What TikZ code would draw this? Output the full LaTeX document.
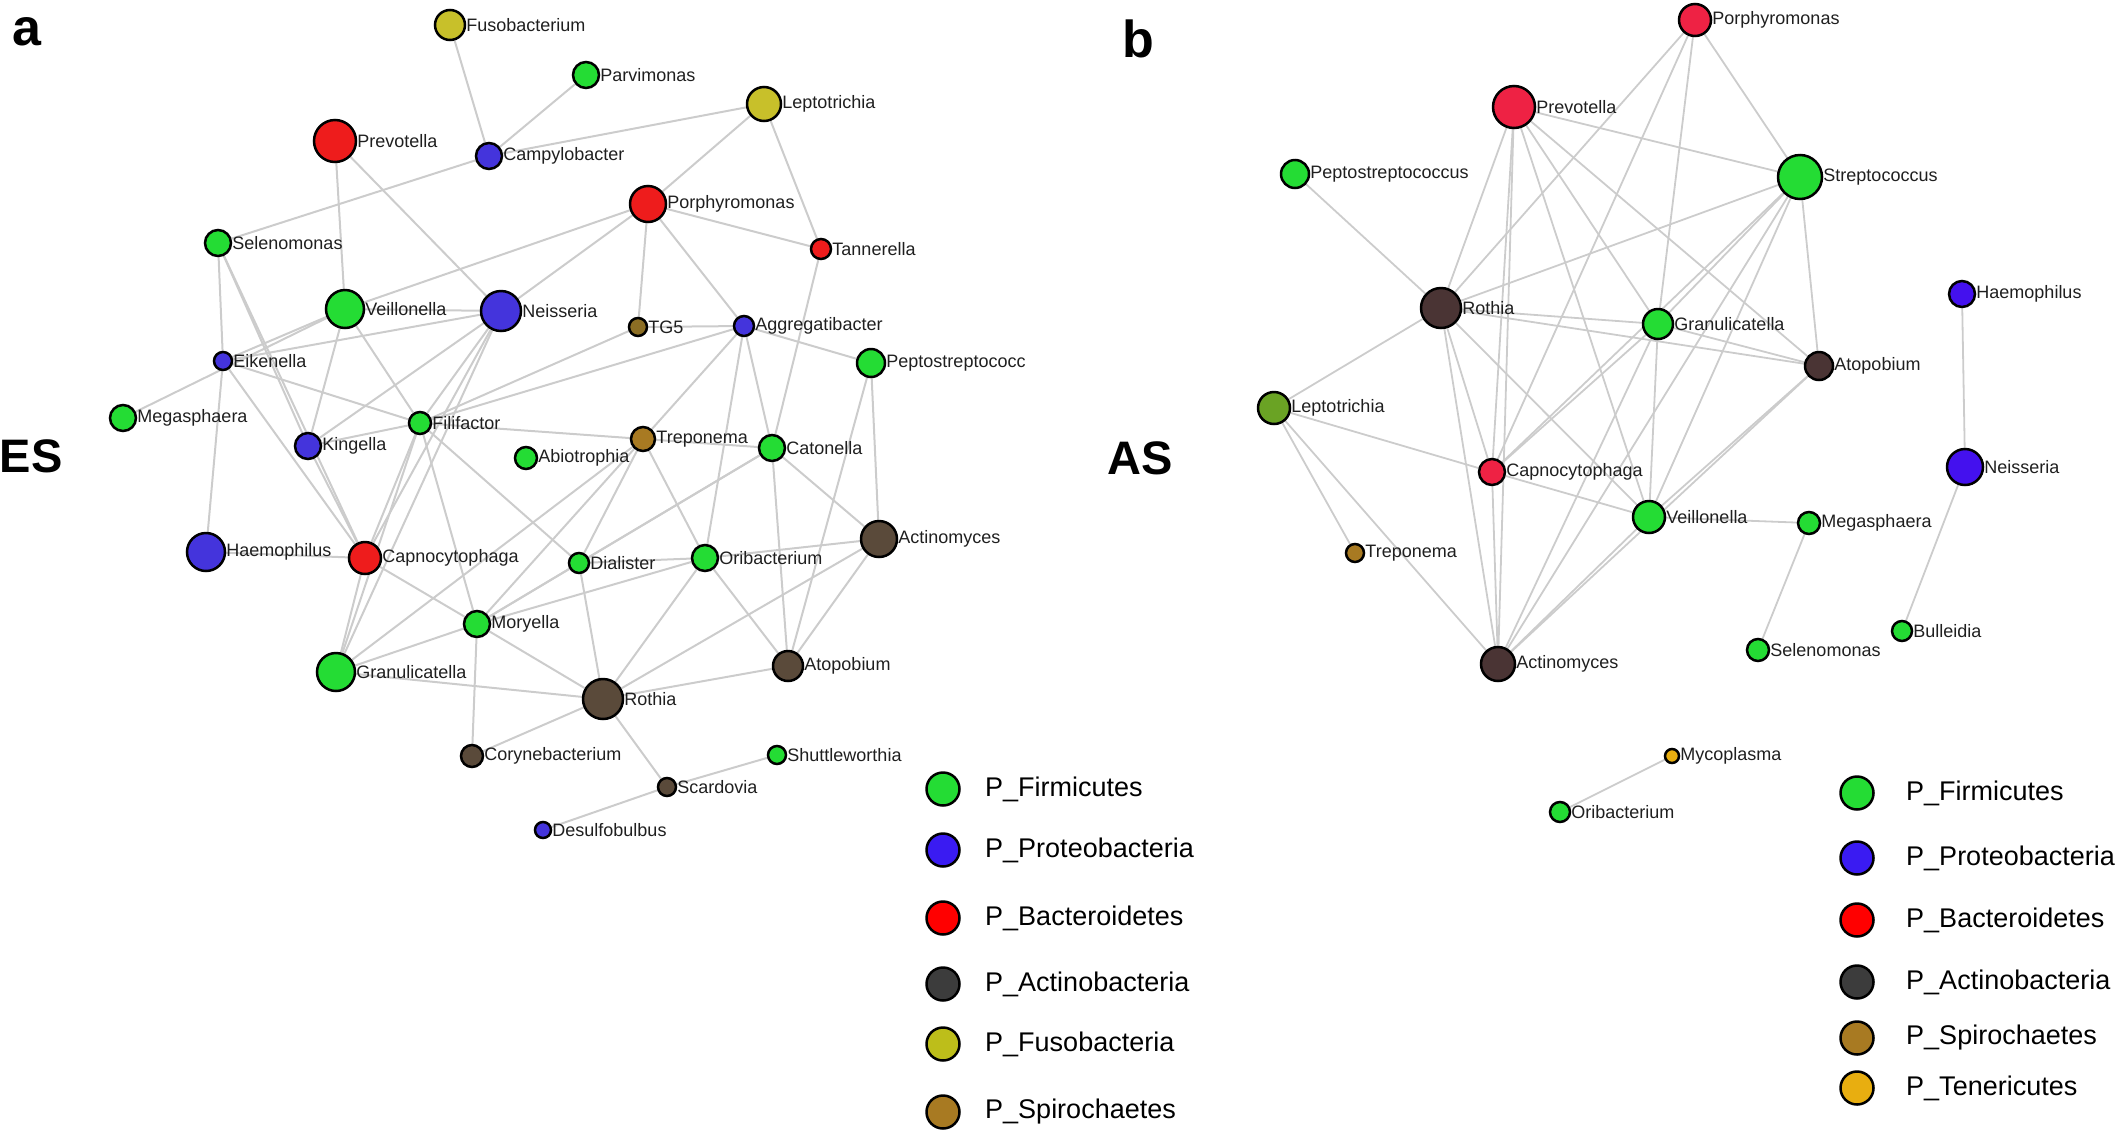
\documentclass[tikz,border=0pt]{standalone}
\usepackage{fontspec}
\setmainfont{Liberation Sans}
\usetikzlibrary{backgrounds}
% phylum colours
\definecolor{firm}{HTML}{24DC34}
\definecolor{protA}{HTML}{4434DC}
\definecolor{bactA}{HTML}{EE1C1C}
\definecolor{actA}{HTML}{5A4A3A}
\definecolor{fusoA}{HTML}{C8C02A}
\definecolor{spiro}{HTML}{A87A22}
\definecolor{tgfive}{HTML}{8C6E24}
\definecolor{protB}{HTML}{4411EE}
\definecolor{bactB}{HTML}{EE2244}
\definecolor{actB}{HTML}{4A3434}
\definecolor{lepto}{HTML}{6AA324}
\definecolor{teneri}{HTML}{E8AE10}
\definecolor{keyblue}{HTML}{3A1BF2}
\definecolor{keyred}{HTML}{FF0000}
\definecolor{keygray}{HTML}{3C3C3C}
\definecolor{keyyellow}{HTML}{BDBE1A}
\definecolor{linkgray}{RGB}{204,204,204}
\tikzset{
  taxon/.style={circle,draw=black,line width=2.5pt,inner sep=0pt,label distance=14pt},
  lbl/.style={font=\fontsize{18}{20}\selectfont,inner sep=0pt,text=black!88},
  link/.style={draw=linkgray,line width=2pt},
  keybox/.style={circle,draw=black,line width=2.5pt,inner sep=0pt,minimum size=33pt},
  keylbl/.style={font=\fontsize{27}{30}\selectfont,inner sep=0pt,anchor=west},
  panel/.style={font=\bfseries\fontsize{52}{56}\selectfont,anchor=base,inner sep=0pt},
  group/.style={font=\bfseries\fontsize{47}{50}\selectfont,anchor=base,inner sep=0pt}
}
\begin{document}
\begin{tikzpicture}[x=1pt,y=-1pt]
  \useasboundingbox (0,0) rectangle (2128,1133);
  % Netzwerk ES
  \foreach \n/\x/\y/\rad/\col in {
    Fusobacterium/450/25/16/fusoA, Parvimonas/586/75/14/firm,
    Prevotella/335/141/22/bactA, Campylobacter/489/156/14/protA,
    Leptotrichia/764/104/18/fusoA, Porphyromonas/648/204/19/bactA,
    Tannerella/821/249/11/bactA, Selenomonas/218/243/14/firm,
    Veillonella/345/309/20/firm, Neisseria/501/311/21/protA,
    TG5/638/327/10/tgfive, Aggregatibacter/744/326/11/protA,
    Eikenella/223/361/10/protA, Peptostreptococc/871/363/15/firm,
    Megasphaera/123/418/14/firm, Filifactor/420/423/12/firm,
    Kingella/308/446/14/protA, Treponema/643/439/13/spiro,
    Catonella/772/448/14/firm, Abiotrophia/526/458/12/firm,
    Actinomyces/879/539/19/actA, Haemophilus/206/552/20/protA,
    Capnocytophaga/365/558/17/bactA, Dialister/579/563/11/firm,
    Oribacterium/705/558/14/firm, Moryella/477/624/14/firm,
    Granulicatella/336/672/20/firm, Atopobium/788/666/16/actA,
    Rothia/603/699/21/actA, Corynebacterium/472/756/12/actA,
    Shuttleworthia/777/755/10/firm, Scardovia/667/787/10/actA,
    Desulfobulbus/543/830/9/protA} {
    \node[taxon,fill=\col,minimum size={2*\rad*1pt-2pt},label={[lbl]right:\n}] (a\n) at (\x,\y) {};
  }
  % Netzwerk AS
  \foreach \n/\x/\y/\rad/\col in {
    Porphyromonas/1695/20/17/bactB, Prevotella/1514/107/22/bactB,
    Peptostreptococcus/1295/174/15/firm, Streptococcus/1800/177/23/firm,
    Haemophilus/1962/294/14/protB, Rothia/1441/308/21/actB,
    Granulicatella/1658/324/16/firm, Atopobium/1819/366/15/actB,
    Leptotrichia/1274/408/17/lepto, Neisseria/1965/467/19/protB,
    Capnocytophaga/1492/472/14/bactB, Veillonella/1649/517/17/firm,
    Megasphaera/1809/523/12/firm, Treponema/1355/553/10/spiro,
    Bulleidia/1902/631/11/firm, Selenomonas/1758/650/12/firm,
    Actinomyces/1498/664/18/actB, Mycoplasma/1672/756/8/teneri,
    Oribacterium/1560/812/11/firm} {
    \node[taxon,fill=\col,minimum size={2*\rad*1pt-2pt},label={[lbl]right:\n}] (b\n) at (\x,\y) {};
  }
  % Kanten
  \begin{scope}[on background layer]
    \foreach \u/\v in {
      Fusobacterium/Campylobacter, Parvimonas/Campylobacter, Campylobacter/Leptotrichia,
      Campylobacter/Selenomonas, Prevotella/Veillonella, Prevotella/Neisseria,
      Leptotrichia/Porphyromonas, Leptotrichia/Tannerella, Porphyromonas/Tannerella,
      Porphyromonas/Veillonella, Porphyromonas/Neisseria, Porphyromonas/TG5,
      Porphyromonas/Aggregatibacter, Tannerella/Catonella, Selenomonas/Eikenella,
      Selenomonas/Kingella, Selenomonas/Capnocytophaga, Veillonella/Neisseria,
      Veillonella/Eikenella, Veillonella/Megasphaera, Veillonella/Kingella,
      Veillonella/Filifactor, Neisseria/Eikenella, Neisseria/Kingella,
      Neisseria/Filifactor, Neisseria/Capnocytophaga, Neisseria/Granulicatella,
      Eikenella/Haemophilus, Eikenella/Filifactor, Eikenella/Capnocytophaga,
      Kingella/Filifactor, Kingella/Capnocytophaga, Haemophilus/Capnocytophaga,
      Filifactor/Capnocytophaga, Filifactor/Granulicatella, Filifactor/Moryella,
      Filifactor/Dialister, Filifactor/TG5, Filifactor/Aggregatibacter,
      Filifactor/Treponema, Capnocytophaga/Granulicatella, Capnocytophaga/Moryella,
      Granulicatella/Moryella, Granulicatella/Treponema, Granulicatella/Rothia,
      Moryella/Corynebacterium, Moryella/Rothia, Moryella/Dialister,
      Moryella/Oribacterium, Moryella/Treponema, Moryella/Catonella,
      Corynebacterium/Rothia, Dialister/Oribacterium, Dialister/Treponema,
      Dialister/Catonella, Dialister/Rothia, TG5/Aggregatibacter,
      Aggregatibacter/Peptostreptococc, Aggregatibacter/Treponema,
      Aggregatibacter/Oribacterium, Aggregatibacter/Catonella, Treponema/Catonella,
      Treponema/Oribacterium, Catonella/Atopobium, Catonella/Actinomyces,
      Peptostreptococc/Actinomyces, Peptostreptococc/Atopobium,
      Oribacterium/Actinomyces, Oribacterium/Atopobium, Oribacterium/Rothia,
      Actinomyces/Rothia, Actinomyces/Atopobium, Rothia/Atopobium, Rothia/Scardovia,
      Scardovia/Shuttleworthia, Scardovia/Desulfobulbus} {
      \draw[link] (a\u) -- (a\v);
    }
    \foreach \u/\v in {
      Porphyromonas/Streptococcus, Porphyromonas/Rothia, Porphyromonas/Granulicatella,
      Porphyromonas/Capnocytophaga, Prevotella/Streptococcus, Prevotella/Rothia,
      Prevotella/Granulicatella, Prevotella/Veillonella, Prevotella/Atopobium,
      Prevotella/Capnocytophaga, Prevotella/Actinomyces, Peptostreptococcus/Rothia,
      Streptococcus/Rothia, Streptococcus/Granulicatella, Streptococcus/Capnocytophaga,
      Streptococcus/Veillonella, Streptococcus/Actinomyces, Streptococcus/Atopobium,
      Rothia/Granulicatella, Rothia/Atopobium, Rothia/Leptotrichia,
      Rothia/Capnocytophaga, Rothia/Actinomyces, Rothia/Veillonella,
      Granulicatella/Atopobium, Granulicatella/Capnocytophaga,
      Granulicatella/Veillonella, Granulicatella/Actinomyces, Atopobium/Veillonella,
      Atopobium/Actinomyces, Leptotrichia/Capnocytophaga, Leptotrichia/Treponema,
      Leptotrichia/Actinomyces, Capnocytophaga/Veillonella,
      Capnocytophaga/Actinomyces, Veillonella/Megasphaera, Veillonella/Actinomyces,
      Megasphaera/Selenomonas, Haemophilus/Neisseria, Neisseria/Bulleidia,
      Mycoplasma/Oribacterium} {
      \draw[link,line width=1.8pt] (b\u) -- (b\v);
    }
  \end{scope}
  % Legenden
  \foreach \col/\t/\y [count=\i] in {
    firm/P\_Firmicutes/789, keyblue/P\_Proteobacteria/850,
    keyred/P\_Bacteroidetes/918, keygray/P\_Actinobacteria/984,
    keyyellow/P\_Fusobacteria/1044, spiro/P\_Spirochaetes/1112} {
    \node[keybox,fill=\col] (keyA\i) at (943,\y) {};
    \node[keylbl] (keyAt\i) at (985,\y) {\t};
  }
  \foreach \col/\t/\y [count=\i] in {
    firm/P\_Firmicutes/793, keyblue/P\_Proteobacteria/858,
    keyred/P\_Bacteroidetes/920, keygray/P\_Actinobacteria/982,
    spiro/P\_Spirochaetes/1038, teneri/P\_Tenericutes/1088} {
    \node[keybox,fill=\col] (keyB\i) at (1857,\y) {};
    \node[keylbl] (keyBt\i) at (1906,\y) {\t};
  }
  % Beschriftung
  \node[panel] (pa) at (27,45) {a};
  \node[panel] (pb) at (1138,57) {b};
  \node[group] (es) at (31,472) {ES};
  \node[group] (as) at (1140,474) {AS};
\end{tikzpicture}
\end{document}
